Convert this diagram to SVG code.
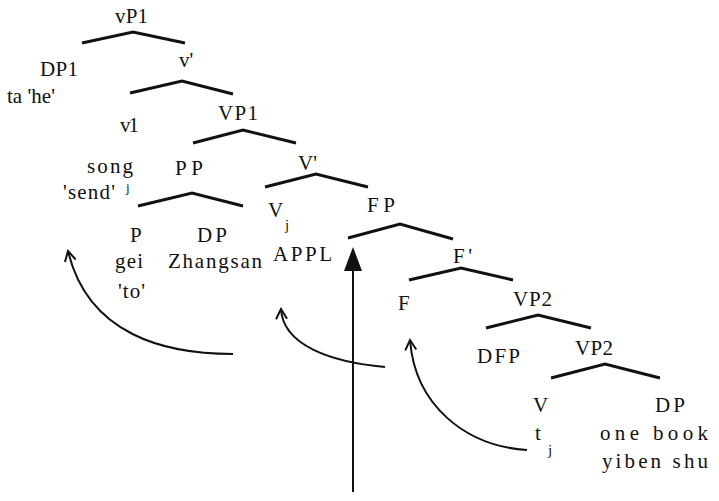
<svg xmlns="http://www.w3.org/2000/svg" width="719" height="501" viewBox="0 0 719 501">
<defs>
<style>
.br{fill:none;stroke:#111;stroke-width:3;stroke-linejoin:miter;}
.mv{fill:none;stroke:#111;stroke-width:2;}
.sub{font-size:15px;}
</style>
<marker id="open" viewBox="-12 -7 14 14" markerWidth="14" markerHeight="14" refX="0" refY="0" orient="auto" markerUnits="userSpaceOnUse">
<path d="M-10,-5.5 L0,0 L-10,5.5" fill="none" stroke="#111" stroke-width="2"/>
</marker>
</defs>
<rect width="719" height="501" fill="#fff"/>
<g id="connectors">
<polyline class="br" points="82,43 133,32 185,43"/>
<polyline class="br" points="130,93 182,81 233,94"/>
<polyline class="br" points="193,143 243,130 296,143"/>
<polyline class="br" points="265,187 316,174 368,187"/>
<polyline class="br" points="138,206 192,193 243,206"/>
<polyline class="br" points="348,238 400,224 453,239"/>
<polyline class="br" points="409,280 461,268 513,280"/>
<polyline class="br" points="486,328 538,315 591,328"/>
<polyline class="br" points="551,378 605,364 660,378"/>
<path class="mv" d="M233,354 C165,354 88,335 68,251" marker-end="url(#open)"/>
<path class="mv" d="M385,367 C330,362 283,345 281,309" marker-end="url(#open)"/>
<path class="mv" d="M527,450 C465,446 415,405 410,340" marker-end="url(#open)"/>
<line x1="353" y1="492" x2="353" y2="268" stroke="#111" stroke-width="2"/>
<polygon points="353,247 344,271 362,271" fill="#111"/>
</g>
<g font-family="Times New Roman, Liberation Serif, DejaVu Serif, serif" font-size="21" fill="#111">
<g id="vP1"><text x="115" y="23" textLength="33">vP1</text></g>
<g id="DP1"><text x="40" y="76" textLength="38">DP1</text><text x="7" y="103" textLength="48">ta 'he'</text></g>
<g id="v-bar"><text x="179" y="67">v'</text></g>
<g id="v1"><text x="120" y="132" textLength="19">v1</text><text x="87" y="173" textLength="46">song</text><text x="126" y="192" font-size="13">j</text><text x="63" y="199" textLength="52">'send'</text></g>
<g id="VP1"><text x="218" y="120" textLength="40">VP1</text></g>
<g id="PP"><text x="175" y="175" textLength="28">PP</text></g>
<g id="V-bar"><text x="298" y="170" textLength="19">V'</text></g>
<g id="Vj"><text x="268" y="217">V</text><text class="sub" x="285" y="230">j</text><text x="273" y="261" textLength="59">APPL</text></g>
<g id="P"><text x="130" y="242">P</text><text x="115" y="268" textLength="28">gei</text><text x="118" y="298" textLength="27">'to'</text></g>
<g id="DP-Zhangsan"><text x="197" y="242" textLength="30">DP</text><text x="168" y="268" textLength="94">Zhangsan</text></g>
<g id="FP"><text x="367" y="212" textLength="28">FP</text></g>
<g id="F-bar"><text x="453" y="263" textLength="19">F'</text></g>
<g id="F"><text x="398" y="310">F</text></g>
<g id="VP2a"><text x="513" y="306" textLength="39">VP2</text></g>
<g id="DFP"><text x="477" y="363" textLength="43">DFP</text></g>
<g id="VP2b"><text x="575" y="355" textLength="38">VP2</text></g>
<g id="V"><text x="533" y="412">V</text><text x="535" y="440">t</text><text class="sub" x="548" y="455">j</text></g>
<g id="DP-book"><text x="655" y="412" textLength="30">DP</text><text x="600" y="440" textLength="108">one book</text><text x="602" y="468" textLength="106">yiben shu</text></g>
</g>
</svg>
